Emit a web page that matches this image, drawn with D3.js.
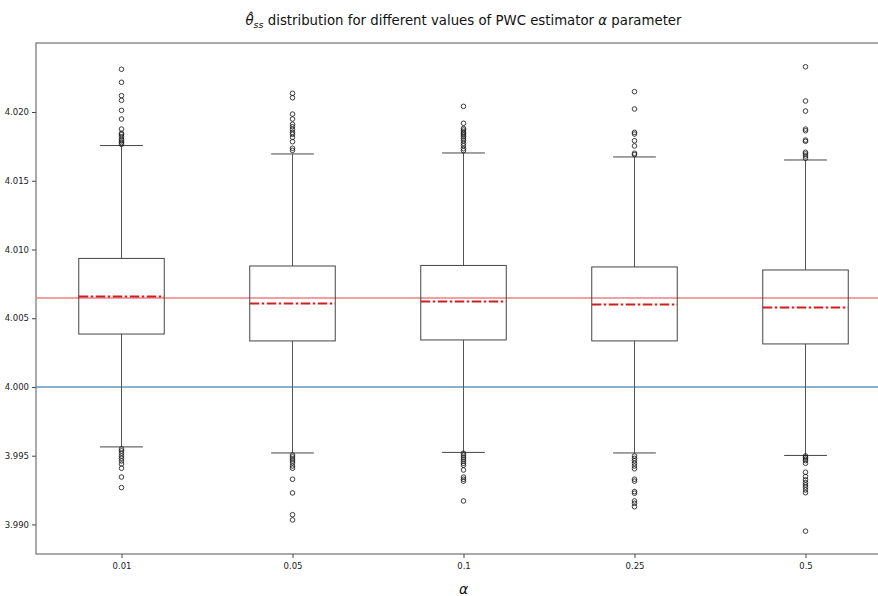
<!DOCTYPE html>
<html><head><meta charset="utf-8">
<script src="https://cdn.jsdelivr.net/npm/d3@7"></script>
<style>body{margin:0;background:#fff;} svg{display:block;font-family:"DejaVu Sans",sans-serif;}</style>
</head><body>
<svg id="chart" width="878" height="596"></svg>
<script>
const categories = ["0.01", "0.05", "0.1", "0.25", "0.5"];
const q1 = [4.00385, 4.00335, 4.00342, 4.00335, 4.00313];
const medians = [4.00658, 4.00607, 4.00622, 4.00600, 4.00578];
const q3 = [4.00935, 4.00880, 4.00884, 4.00873, 4.00851];
const whiskerLow = [3.99564, 3.99520, 3.99524, 3.99520, 3.99502];
const whiskerHigh = [4.01756, 4.01695, 4.01702, 4.01673, 4.01651];
const outliersHigh = [
  [4.02311, 4.02216, 4.02119, 4.02085, 4.02012, 4.01949, 4.01876, 4.01845, 4.01835, 4.01820, 4.01801, 4.01789, 4.01777, 4.01765],
  [4.02136, 4.02104, 4.01985, 4.01949, 4.01911, 4.01893, 4.01874, 4.01852, 4.01838, 4.01816, 4.01784, 4.01736, 4.01721],
  [4.02041, 4.01918, 4.01881, 4.01869, 4.01855, 4.01845, 4.01833, 4.01820, 4.01806, 4.01791, 4.01772, 4.01755, 4.01733, 4.01719],
  [4.02148, 4.02022, 4.01852, 4.01840, 4.01791, 4.01753, 4.01700, 4.01690],
  [4.02329, 4.02080, 4.02007, 4.01876, 4.01864, 4.01796, 4.01787, 4.01707, 4.01695, 4.01680, 4.01664]
];
const outliersLow = [
  [3.99549, 3.99535, 3.99518, 3.99498, 3.99481, 3.99462, 3.99440, 3.99409, 3.99345, 3.99268],
  [3.99505, 3.99491, 3.99476, 3.99462, 3.99447, 3.99425, 3.99409, 3.99329, 3.99229, 3.99071, 3.99033],
  [3.99518, 3.99504, 3.99489, 3.99475, 3.99460, 3.99445, 3.99431, 3.99396, 3.99344, 3.99329, 3.99315, 3.99171],
  [3.99498, 3.99481, 3.99464, 3.99445, 3.99425, 3.99405, 3.99329, 3.99315, 3.99239, 3.99227, 3.99171, 3.99154, 3.99129],
  [3.99498, 3.99488, 3.99476, 3.99464, 3.99445, 3.99380, 3.99348, 3.99324, 3.99304, 3.99287, 3.99271, 3.99251, 3.99231, 3.98951]
];
const refRed = 4.00647;
const refBlue = 4.000;
const yTicks = [3.990, 3.995, 4.000, 4.005, 4.010, 4.015, 4.020];

const svg = d3.select("#chart");
const m = {left: 36, top: 43, right: 891, bottom: 554};
const x = d3.scaleLinear().domain([0.5, 5.5]).range([m.left, m.right]);
const y = d3.scaleLinear().domain([3.98785, 4.02502]).range([m.bottom, m.top]);
const boxW = x(1.5) - x(1);

// axes
const yAxis = d3.axisLeft(y).tickValues(yTicks).tickFormat(d3.format(".3f")).tickSize(4).tickPadding(3);
const gy = svg.append("g").attr("transform", `translate(${m.left},0)`).call(yAxis);
const xAxis = d3.axisBottom(x).tickValues(categories.map((c,i)=>i+1)).tickFormat((d,i)=>categories[i]).tickSize(4).tickPadding(5);
const gx = svg.append("g").attr("transform", `translate(0,${m.bottom})`).call(xAxis);
[gx, gy].forEach(g => {
  g.select(".domain").remove();
  g.selectAll("text").attr("font-size", 8.5).attr("fill", "#222").attr("font-family", "DejaVu Sans");
  g.selectAll("line").attr("stroke", "#444");
});

// frame
svg.append("rect").attr("x", m.left).attr("y", m.top).attr("width", m.right - m.left).attr("height", m.bottom - m.top)
  .attr("fill", "none").attr("stroke", "#555").attr("stroke-width", 1);

// reference lines
svg.append("line").attr("x1", m.left).attr("x2", m.right).attr("y1", y(refRed)).attr("y2", y(refRed))
  .attr("stroke", "#f08080").attr("stroke-width", 1.5);
svg.append("line").attr("x1", m.left).attr("x2", m.right).attr("y1", y(refBlue)).attr("y2", y(refBlue))
  .attr("stroke", "#5f97bf").attr("stroke-width", 1.5);

const g = svg.append("g");
categories.forEach((c, i) => {
  const cx = x(i + 1);
  const capW = boxW * 0.5;
  // whiskers
  g.append("line").attr("x1", cx).attr("x2", cx).attr("y1", y(q3[i])).attr("y2", y(whiskerHigh[i])).attr("stroke", "#555");
  g.append("line").attr("x1", cx).attr("x2", cx).attr("y1", y(q1[i])).attr("y2", y(whiskerLow[i])).attr("stroke", "#555");
  g.append("line").attr("x1", cx - capW/2).attr("x2", cx + capW/2).attr("y1", y(whiskerHigh[i])).attr("y2", y(whiskerHigh[i])).attr("stroke", "#444");
  g.append("line").attr("x1", cx - capW/2).attr("x2", cx + capW/2).attr("y1", y(whiskerLow[i])).attr("y2", y(whiskerLow[i])).attr("stroke", "#444");
  // box
  g.append("rect").attr("x", cx - boxW/2).attr("y", y(q3[i])).attr("width", boxW).attr("height", y(q1[i]) - y(q3[i]))
    .attr("fill", "none").attr("stroke", "#444").attr("stroke-width", 1);
  // median
  g.append("line").attr("x1", cx - boxW/2).attr("x2", cx + boxW/2).attr("y1", y(medians[i])).attr("y2", y(medians[i]))
    .attr("stroke", "#cc2020").attr("stroke-width", 2).attr("stroke-dasharray", "9.5,2.5,2.5,2.5");
  // outliers
  outliersHigh[i].concat(outliersLow[i]).forEach(v => {
    g.append("circle").attr("cx", cx).attr("cy", y(v)).attr("r", 2.3)
      .attr("fill", "none").attr("stroke", "#111").attr("stroke-width", 0.8);
  });
});

// title
const title = svg.append("text").attr("x", x(3)).attr("y", 25).attr("text-anchor", "middle")
  .attr("font-size", 13.3).attr("fill", "#111");
title.append("tspan").attr("font-style", "italic").text("θ\u0302");
title.append("tspan").attr("font-style", "italic").attr("font-size", 9.5).attr("dy", 3).text("ss");
title.append("tspan").attr("dy", -3).text(" distribution for different values of PWC estimator ");
title.append("tspan").attr("font-style", "italic").text("α");
title.append("tspan").text(" parameter");

// x label
svg.append("text").attr("x", x(3)).attr("y", 594).attr("text-anchor", "middle").attr("font-size", 14)
  .attr("font-style", "italic").attr("fill", "#111").text("α");
</script>
</body></html>
